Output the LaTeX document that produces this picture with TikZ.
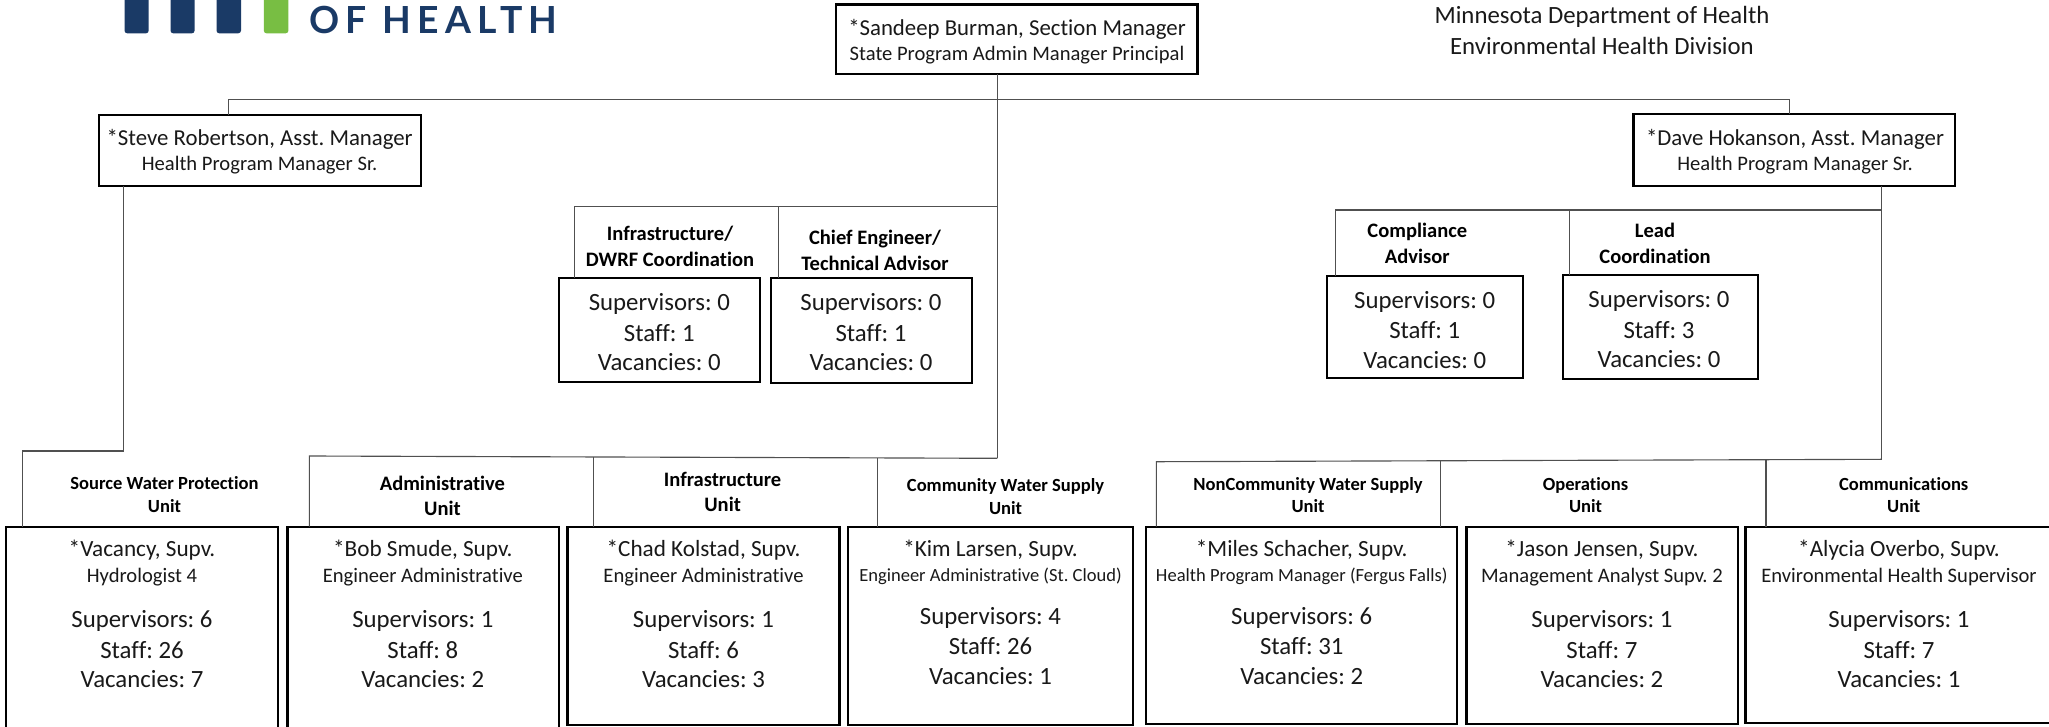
\documentclass[tikz,border=0pt]{standalone}
\usepackage{fontspec}
\setmainfont{Carlito}[Ligatures=NoCommon]
\newfontfamily\logofont{Lato}
\usetikzlibrary{calc}
\frenchspacing
\definecolor{logoblue}{HTML}{1A3A66}
\definecolor{logogreen}{HTML}{78BE43}
\definecolor{connline}{HTML}{505050}
\tikzset{
  boxst/.style={draw=black,line width=1.7pt,fill=white,rectangle,inner sep=0pt,outer sep=0pt,anchor=north west},
  conn/.style={draw=connline,line width=0.85pt,line join=miter},
  txtbase/.style={inner sep=0pt,anchor=center,text height=0.92em,text depth=0pt},
  lineH/.style={txtbase,yshift=-1.8pt,font=\fontsize{18.6}{20}\selectfont,text=black!90},
  lineM/.style={txtbase,yshift=-1.4pt,font=\fontsize{17.1}{19}\selectfont,text=black!90},
  lineA/.style={txtbase,font=\fontsize{17.4}{19}\selectfont,text=black!90},
  lineB/.style={txtbase,yshift=-0.5pt,font=\fontsize{15.45}{17}\selectfont,text=black!90},
  lineC/.style={txtbase,yshift=-1.6pt,font=\fontsize{18.6}{20}\selectfont,text=black!90},
  lineS/.style={txtbase,font=\fontsize{13.9}{15}\selectfont,text=black!90},
  headA/.style={txtbase,font=\fontsize{13.9}{15}\selectfont\bfseries,text=black},
  headB/.style={txtbase,yshift=-0.5pt,font=\fontsize{15.4}{17}\selectfont\bfseries,text=black},
  logobar/.style={fill=#1,rounded corners=2pt,draw=none},
}
\newcommand{\bx}[5]{%
  \pgfmathsetmacro{\bw}{(#4-#2)*0.75}\pgfmathsetmacro{\bh}{(#5-#3)*0.75}%
  \node[boxst,minimum width=\bw pt,minimum height=\bh pt] (#1) at (#2,#3) {};}
\newcommand{\tx}[4]{\node[#1] (#2) at (#3) {#4};}
\begin{document}
\begin{tikzpicture}[x=0.75pt,y=-0.75pt]
\useasboundingbox (0,0) rectangle (2049,726);
\clip (0,0) rectangle (2049,726);
\fill[white] (0,0) rectangle (2049,726);
% logo
\fill[logobar=logoblue] (124.5,-12) rectangle (148.7,33.3);
\fill[logobar=logoblue] (170.5,-12) rectangle (194.6,33.3);
\fill[logobar=logoblue] (216.5,-12) rectangle (241,33.3);
\fill[logobar=logogreen] (263.8,-12) rectangle (288.4,33.3);
\node[font=\logofont\bfseries\fontsize{28}{30}\selectfont,text=logoblue,inner sep=0pt,anchor=center] (logotext) at (433.5,19.5) {\addfontfeature{LetterSpace=17}OF HEALTH};
% coordinates
\coordinate (trunkC) at (997.3,458.3);
\coordinate (mgrL) at (228.6,99.3);
\coordinate (mgrR) at (1789.6,99.3);
\coordinate (busTech) at (574.3,206.3);
\coordinate (dropChief) at (778.7,206.3);
\coordinate (busLeadL) at (1335.4,210);
\coordinate (dropLead) at (1569.8,210);
\coordinate (trunkR) at (1881.8,459.3);
\coordinate (leftElbow) at (123.7,451);
\coordinate (srcDrop) at (22.3,451);
\coordinate (busAdmin) at (309.4,456);
\coordinate (dropInfra) at (593.8,457);
\coordinate (dropComm) at (877.3,458);
\coordinate (busNon) at (1156.4,461.7);
\coordinate (dropOps) at (1440.7,460.5);
\coordinate (dropCommu) at (1766,460);
% boxes
\bx{top}{836}{4.5}{1197.5}{74}
\bx{steve}{99}{114.7}{421}{186}
\bx{dave}{1633.6}{114.3}{1955.3}{186}
\bx{infraS}{559.3}{277.7}{760}{381.7}
\bx{chiefS}{770.7}{277.7}{971.7}{382.7}
\bx{compS}{1327}{276}{1522.8}{378}
\bx{leadS}{1563}{274.7}{1757.7}{379}
\bx{srcB}{6}{526.7}{278}{735}
\bx{admB}{287.5}{526.7}{559}{735}
\bx{infB}{567.6}{526.7}{839.4}{725}
\bx{comB}{847.8}{526.7}{1133}{725}
\bx{nonB}{1145.8}{526.7}{1457}{724}
\bx{opsB}{1466.5}{526.7}{1738}{724}
\bx{comuB}{1745.5}{526.7}{2060}{723}
% connectors
\draw[conn] (top.south -| trunkC) -- (trunkC);
\draw[conn] (steve.north -| mgrL) -- (mgrL) -- (mgrR) -- (dave.north -| mgrR);
\draw[conn] (steve.south -| leftElbow) -- (leftElbow) -- (srcDrop) -- (srcB.north -| srcDrop);
\draw[conn] (infraS.north -| busTech) -- (busTech) -- (dropChief -| trunkC);
\draw[conn] (chiefS.north -| dropChief) -- (dropChief);
\draw[conn] (admB.north -| busAdmin) -- (busAdmin) -- (trunkC);
\draw[conn] (infB.north -| dropInfra) -- (dropInfra);
\draw[conn] (comB.north -| dropComm) -- (dropComm);
\draw[conn] (dave.south -| trunkR) -- (trunkR);
\draw[conn] (compS.north -| busLeadL) -- (busLeadL) -- (busLeadL -| trunkR);
\draw[conn] (leadS.north -| dropLead) -- (dropLead);
\draw[conn] (nonB.north -| busNon) -- (busNon) -- (trunkR);
\draw[conn] (nonB.north -| dropOps) -- (dropOps);
\draw[conn] (comuB.north -| dropCommu) -- (dropCommu);
% header
\tx{lineH}{hdrA}{1602,15}{Minnesota Department of Health}
\tx{lineH}{hdrB}{1602,46}{Environmental Health Division}
% managers
\tx{lineM}{topA}{1017,27.5}{*Sandeep Burman, Section Manager}
\tx{lineB}{topB}{1017,54}{State Program Admin Manager Principal}
\tx{lineM}{steveA}{259.6,137.3}{*Steve Robertson, Asst. Manager}
\tx{lineB}{steveB}{259.6,164}{Health Program Manager Sr.}
\tx{lineM}{daveA}{1795,137.7}{*Dave Hokanson, Asst. Manager}
\tx{lineB}{daveB}{1795,164}{Health Program Manager Sr.}
% small boxes heads
\tx{headB}{h1a}{670,234}{Infrastructure/}
\tx{headB}{h1b}{670,260}{DWRF Coordination}
\tx{headB}{h2a}{875,237.7}{Chief Engineer/}
\tx{headB}{h2b}{875,263.3}{Technical Advisor}
\tx{headB}{h3a}{1417.3,231}{Compliance}
\tx{headB}{h3b}{1417.3,256.7}{Advisor}
\tx{headB}{h4a}{1655,230.7}{Lead}
\tx{headB}{h4b}{1655,256.7}{Coordination}
% small boxes
\tx{lineC}{s1a}{659.3,302.3}{Supervisors: 0}
\tx{lineC}{s1b}{659.3,333.3}{Staff: 1}
\tx{lineC}{s1c}{659.3,362.7}{Vacancies: 0}
\tx{lineC}{s2a}{871,302.3}{Supervisors: 0}
\tx{lineC}{s2b}{871,333.3}{Staff: 1}
\tx{lineC}{s2c}{871,362.7}{Vacancies: 0}
\tx{lineC}{s3a}{1424.7,300.7}{Supervisors: 0}
\tx{lineC}{s3b}{1424.7,330.7}{Staff: 1}
\tx{lineC}{s3c}{1424.7,360.7}{Vacancies: 0}
\tx{lineC}{s4a}{1659,299.3}{Supervisors: 0}
\tx{lineC}{s4b}{1659,330}{Staff: 3}
\tx{lineC}{s4c}{1659,359.3}{Vacancies: 0}
% unit heads
\tx{headA}{u1a}{164.5,483.3}{Source Water Protection}
\tx{headA}{u1b}{164.5,506}{Unit}
\tx{headB}{u2a}{442.4,484}{Administrative}
\tx{headB}{u2b}{442.4,509}{Unit}
\tx{headB}{u3a}{722.6,479.3}{Infrastructure}
\tx{headB}{u3b}{722.6,505}{Unit}
\tx{headA}{u4a}{1005.5,485.7}{Community Water Supply}
\tx{headA}{u4b}{1005.5,508.3}{Unit}
\tx{headA}{u5a}{1308,484}{NonCommunity Water Supply}
\tx{headA}{u5b}{1308,506.7}{Unit}
\tx{headA}{u6a}{1585.5,484}{Operations}
\tx{headA}{u6b}{1585.5,506.7}{Unit}
\tx{headA}{u7a}{1903.7,484}{Communications}
\tx{headA}{u7b}{1903.7,506.7}{Unit}
% unit bodies
\tx{lineA}{b1a}{142,550}{*Vacancy, Supv.}
\tx{lineB}{b1b}{142,576}{Hydrologist 4}
\tx{lineC}{b1c}{142,619}{Supervisors: 6}
\tx{lineC}{b1d}{142,650}{Staff: 26}
\tx{lineC}{b1e}{142,679.3}{Vacancies: 7}
\tx{lineA}{b2a}{422.8,550}{*Bob Smude, Supv.}
\tx{lineB}{b2b}{422.8,576}{Engineer Administrative}
\tx{lineC}{b2c}{422.8,619}{Supervisors: 1}
\tx{lineC}{b2d}{422.8,650}{Staff: 8}
\tx{lineC}{b2e}{422.8,679.3}{Vacancies: 2}
\tx{lineA}{b3a}{703.5,550}{*Chad Kolstad, Supv.}
\tx{lineB}{b3b}{703.5,576}{Engineer Administrative}
\tx{lineC}{b3c}{703.5,619}{Supervisors: 1}
\tx{lineC}{b3d}{703.5,650}{Staff: 6}
\tx{lineC}{b3e}{703.5,679.3}{Vacancies: 3}
\tx{lineA}{b4a}{990.5,550}{*Kim Larsen, Supv.}
\tx{lineS}{b4b}{990.5,575}{Engineer Administrative (St. Cloud)}
\tx{lineC}{b4c}{990.5,616.7}{Supervisors: 4}
\tx{lineC}{b4d}{990.5,646.7}{Staff: 26}
\tx{lineC}{b4e}{990.5,676.7}{Vacancies: 1}
\tx{lineA}{b5a}{1301.7,550}{*Miles Schacher, Supv.}
\tx{lineS}{b5b}{1301.7,575}{Health Program Manager (Fergus Falls)}
\tx{lineC}{b5c}{1301.7,616.7}{Supervisors: 6}
\tx{lineC}{b5d}{1301.7,646.7}{Staff: 31}
\tx{lineC}{b5e}{1301.7,676.7}{Vacancies: 2}
\tx{lineA}{b6a}{1601.9,550}{*Jason Jensen, Supv.}
\tx{lineB}{b6b}{1601.9,576}{Management Analyst Supv. 2}
\tx{lineC}{b6c}{1601.9,619}{Supervisors: 1}
\tx{lineC}{b6d}{1601.9,650}{Staff: 7}
\tx{lineC}{b6e}{1601.9,679.3}{Vacancies: 2}
\tx{lineA}{b7a}{1899,550}{*Alycia Overbo, Supv.}
\tx{lineB}{b7b}{1899,576}{Environmental Health Supervisor}
\tx{lineC}{b7c}{1899,619}{Supervisors: 1}
\tx{lineC}{b7d}{1899,650}{Staff: 7}
\tx{lineC}{b7e}{1899,679.3}{Vacancies: 1}
\end{tikzpicture}
\end{document}
